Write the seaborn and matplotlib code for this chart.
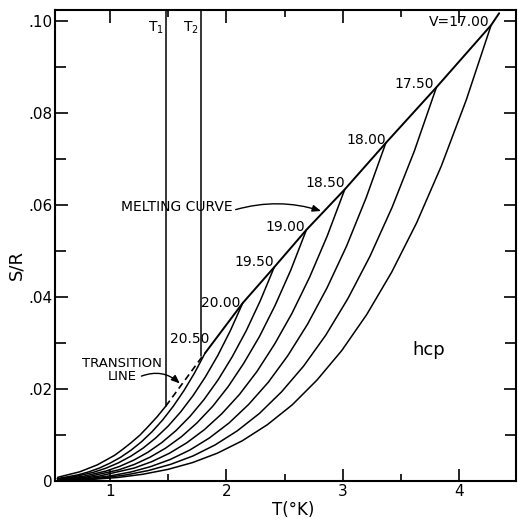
import numpy as np
import pandas as pd
import matplotlib
matplotlib.use("Agg")
import matplotlib.pyplot as plt
import seaborn as sns

# ---------------- data ----------------
labels = ["top", "20.50", "20.00", "19.50", "19.00", "18.50", "18.00", "17.50", "V=17.00"]

T_top  = [0.55, 0.74, 0.89, 0.962, 1.04, 1.11, 1.18, 1.258, 1.33, 1.406, 1.48]
S_top  = [0.0008, 0.0020, 0.0035, 0.0045, 0.0056, 0.0069, 0.0083, 0.0100, 0.0119, 0.0140, 0.0163]
T_2050 = [0.545, 0.727, 0.818, 0.909, 0.999, 1.090, 1.181, 1.272, 1.363, 1.454, 1.544, 1.635, 1.726, 1.817]
S_2050 = [0.0005, 0.00135, 0.00199, 0.00282, 0.00387, 0.00514, 0.00671, 0.00856, 0.01076, 0.01332,
          0.01626, 0.01963, 0.02346, 0.0278]
T_2000 = [0.557, 0.707, 0.856, 0.963, 1.071, 1.178, 1.285, 1.392, 1.499, 1.606, 1.713, 1.820, 1.927,
          2.034, 2.141]
S_2000 = [0.00044, 0.0010, 0.00188, 0.00277, 0.00393, 0.00538, 0.00716, 0.00934, 0.01192, 0.01498,
          0.01854, 0.02264, 0.02732, 0.03266, 0.0387]
T_1950 = [0.555, 0.772, 0.965, 1.085, 1.206, 1.327, 1.447, 1.568, 1.688, 1.809, 1.930, 2.050, 2.171,
          2.291, 2.412]
S_1950 = [0.00034, 0.00102, 0.00216, 0.0032, 0.00456, 0.00627, 0.00839, 0.01098, 0.01406, 0.01774,
          0.02203, 0.02699, 0.03267, 0.03915, 0.0465]
T_1900 = [0.551, 0.806, 1.075, 1.210, 1.344, 1.478, 1.613, 1.747, 1.882, 2.016, 2.150, 2.285, 2.419,
          2.554, 2.688]
S_1900 = [0.00025, 0.00091, 0.00242, 0.00361, 0.00518, 0.00715, 0.00961, 0.01262, 0.01622, 0.02053,
          0.02561, 0.03142, 0.03817, 0.04586, 0.0546]
T_1850 = [0.549, 0.724, 0.905, 1.207, 1.358, 1.509, 1.660, 1.811, 1.962, 2.113, 2.264, 2.414, 2.565,
          2.716, 2.867, 3.018]
S_1850 = [0.00019, 0.0005, 0.00106, 0.00281, 0.0042, 0.00601, 0.00831, 0.01116, 0.01465, 0.01883,
          0.02384, 0.02973, 0.03649, 0.04432, 0.05326, 0.0634]
T_1800 = [0.549, 0.674, 0.843, 1.011, 1.180, 1.348, 1.517, 1.686, 1.854, 2.023, 2.191, 2.360, 2.528,
          2.697, 2.865, 3.034, 3.202, 3.371]
S_1800 = [0.00014, 0.00029, 0.00062, 0.00115, 0.00196, 0.00312, 0.00467, 0.00673, 0.00935, 0.01261,
          0.01663, 0.02145, 0.02724, 0.03405, 0.04196, 0.0511, 0.06159, 0.0735]
T_1750 = [0.552, 0.761, 0.952, 1.142, 1.332, 1.522, 1.713, 1.903, 2.093, 2.284, 2.474, 2.664, 2.855,
          3.045, 3.235, 3.425, 3.616, 3.806]
S_1750 = [0.00011, 0.00033, 0.00072, 0.00134, 0.00229, 0.00363, 0.00544, 0.00784, 0.01089, 0.01468,
          0.01937, 0.02498, 0.03172, 0.03966, 0.04887, 0.05951, 0.07173, 0.0856]
T_1700 = [0.552, 0.855, 1.069, 1.283, 1.497, 1.710, 1.924, 2.138, 2.352, 2.566, 2.779, 2.993, 3.207,
          3.421, 3.635, 3.848, 4.062, 4.276]
S_1700 = [0.00008, 0.00036, 0.00077, 0.00147, 0.00252, 0.00401, 0.00606, 0.00876, 0.01223, 0.01655,
          0.02194, 0.02839, 0.0362, 0.04539, 0.05609, 0.06848, 0.08281, 0.0991]

T_melt = [1.817, 2.141, 2.412, 2.688, 3.018, 3.371, 3.806, 4.276, 4.345]
S_melt = [0.0278, 0.0387, 0.0465, 0.0546, 0.0634, 0.0735, 0.0856, 0.0991, 0.1017]

T_trans = [1.48, 1.80]
S_trans = [0.0163, 0.0273]

T1_pos, T1_bottom = 1.479, 0.0163
T2_pos, T2_bottom = 1.782, 0.0272

x_ticks = [1, 2, 3, 4]
y_ticks = [0, 0.02, 0.04, 0.06, 0.08, 0.10]
y_ticklabels = ["0", ".02", ".04", ".06", ".08", ".10"]

# ---------------- build table ----------------
curves_T = [T_top, T_2050, T_2000, T_1950, T_1900, T_1850, T_1800, T_1750, T_1700]
curves_S = [S_top, S_2050, S_2000, S_1950, S_1900, S_1850, S_1800, S_1750, S_1700]
rows = []
for lab, Ts, Ss in zip(labels, curves_T, curves_S):
    for t, s in zip(Ts, Ss):
        rows.append({"V": lab, "T": t, "S": s})
df = pd.DataFrame(rows)
df_melt = pd.DataFrame({"T": T_melt, "S": S_melt})
df_trans = pd.DataFrame({"T": T_trans, "S": S_trans})

sns.set_style("ticks")
plt.rcParams["font.family"] = ["DejaVu Sans"]
plt.rcParams["text.color"] = "black"
plt.rcParams["axes.labelcolor"] = "black"
plt.rcParams["xtick.color"] = "black"
plt.rcParams["ytick.color"] = "black"

fig = plt.figure(figsize=(5.18, 5.20), dpi=100)
ax = fig.add_axes([55 / 518, 1 - 481 / 520, 461 / 518, 471 / 520])

sns.lineplot(data=df, x="T", y="S", units="V", estimator=None, sort=False,
             color="black", lw=1.1, ax=ax)
sns.lineplot(data=df_melt, x="T", y="S", estimator=None, sort=False,
             color="black", lw=1.4, ax=ax)
sns.lineplot(data=df_trans, x="T", y="S", estimator=None, sort=False,
             color="black", lw=1.2, ax=ax, linestyle=(0, (4, 2.5)))

ymax = 0.1024
ax.plot([T1_pos, T1_pos], [T1_bottom, ymax], color="black", lw=1.1)
ax.plot([T2_pos, T2_pos], [T2_bottom, ymax], color="black", lw=1.1)

ax.set_xlim(0.527, 4.49)
ax.set_ylim(0, ymax)

# isochore labels
offsets = {"20.50": (3, 10), "20.00": (-2, 0), "19.50": (0, 3.5), "19.00": (-1, 2),
           "18.50": (0, 4.5), "18.00": (0, 2), "17.50": (-2, 2), "V=17.00": (-1, 2)}
for lab, Ts, Ss in zip(labels[1:], curves_T[1:], curves_S[1:]):
    dx, dy = offsets[lab]
    ax.annotate(lab, xy=(Ts[-1], Ss[-1]), xytext=(dx, dy), textcoords="offset points",
                ha="right", va="center", fontsize=10, color="black")

ax.text(T1_pos - 0.02, 0.0985, "T$_1$", ha="right", va="center", fontsize=10)
ax.text(T2_pos - 0.02, 0.0985, "T$_2$", ha="right", va="center", fontsize=10)

ax.text(1.576, 0.0596, "MELTING CURVE", ha="center", va="center", fontsize=10)
ax.annotate("", xy=(2.814, 0.0587), xytext=(2.08, 0.0590),
            arrowprops=dict(arrowstyle="-|>,head_length=0.5,head_width=0.2", color="black",
                            lw=1.0, connectionstyle="arc3,rad=-0.15", shrinkA=0, shrinkB=0))
ax.text(1.103, 0.0242, "TRANSITION\nLINE", ha="center", va="center", fontsize=9.5,
        linespacing=1.0)
ax.annotate("", xy=(1.60, 0.0212), xytext=(1.27, 0.0228),
            arrowprops=dict(arrowstyle="-|>,head_length=0.5,head_width=0.2", color="black",
                            lw=1.0, connectionstyle="arc3,rad=-0.3", shrinkA=0, shrinkB=0))
ax.text(3.738, 0.0285, "hcp", ha="center", va="center", fontsize=13)

# axes styling
for sp in ax.spines.values():
    sp.set_visible(True)
    sp.set_linewidth(1.5)
    sp.set_color("black")
ax.set_xticks(x_ticks)
ax.set_xticks([1.5, 2.5, 3.5], minor=True)
ax.set_yticks(y_ticks)
ax.set_yticklabels(y_ticklabels)
ax.set_yticks([0.01, 0.03, 0.05, 0.07, 0.09], minor=True)
ax.tick_params(which="major", direction="in", length=9, width=1.2, top=True, right=True,
               labelsize=11, pad=2, colors="black")
ax.tick_params(which="minor", direction="in", length=5, width=1.2, top=True, right=True)
ax.tick_params(axis="y", which="minor", right=True, length=8)

ax.set_xlabel("T(°K)", fontsize=12)
ax.set_ylabel("S/R", fontsize=13)
ax.xaxis.set_label_coords(0.516, -0.042)
ax.yaxis.set_label_coords(-0.065, 0.459)

fig.savefig("out.png", dpi=100)
